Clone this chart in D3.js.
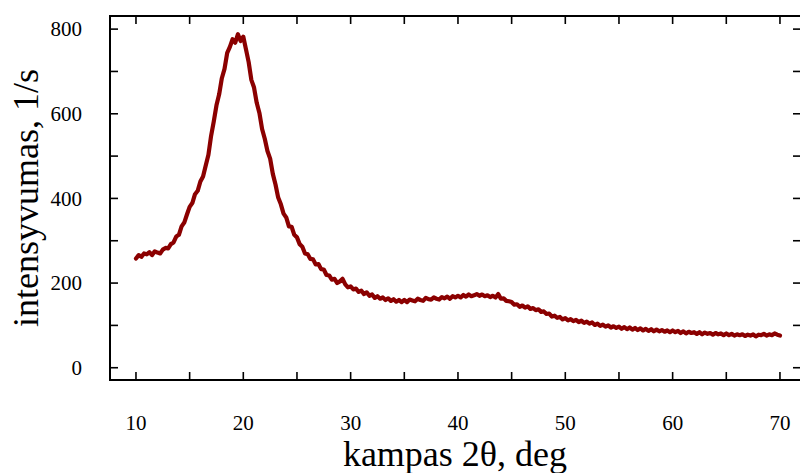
<!DOCTYPE html>
<html>
<head>
<meta charset="utf-8">
<script src="https://cdn.jsdelivr.net/npm/d3@7"></script>
<style>
  body { margin: 0; background: #fff; }
  svg { display: block; }
  text { font-family: "Liberation Serif", "Times New Roman", serif; fill: #000; }
</style>
</head>
<body>
<svg id="viz"></svg>
<script>
// 2theta scan: start, step (deg)
var twoThetaStart = 10;
var twoThetaStep = 0.25;

// intensity, 1/s — one row per 5 deg
var intensity = [
  258, 266, 262, 270, 268, 273, 266, 275, 272, 270, 279, 283, 282, 292, 296, 310, 314, 334, 343, 362,
  380, 389, 410, 418, 440, 452, 478, 503, 548, 582, 620, 646, 684, 706, 744, 758, 776, 768, 788, 772,
  782, 752, 722, 680, 662, 626, 602, 564, 541, 512, 494, 458, 433, 402, 386, 364, 355, 334, 333, 314,
  308, 292, 286, 270, 268, 257, 256, 244, 245, 233, 232, 219, 218, 208, 210, 200, 204, 210, 197, 190,
  192, 185, 187, 179, 182, 174, 178, 170, 173, 165, 169, 163, 166, 160, 164, 158, 162, 156, 160, 155,
  160, 155, 161, 159, 157, 163, 160, 158, 165, 162, 161, 166, 163, 161, 167, 164, 168, 163, 169, 166,
  170, 166, 172, 168, 173, 169, 171, 174, 170, 173, 169, 171, 167, 170, 166, 174, 163, 164, 158, 157,
  155, 149, 150, 144, 147, 142, 145, 139, 141, 136, 138, 132, 133, 127, 128, 121, 123, 118, 120, 114,
  117, 112, 115, 110, 113, 108, 111, 106, 109, 104, 107, 101, 104,  99, 102,  97, 100,  95,  98,  94,
   97,  92,  96,  91,  95,  90,  94,  89,  93,  88,  92,  87,  91,  86,  90,  86,  89,  85,  88,  84,
   88,  84,  87,  82,  86,  81,  85,  82,  84,  80,  84,  79,  83,  80,  82,  78,  82,  79,  81,  77,
   81,  77,  80,  76,  79,  77,  79,  75,  78,  76,  79,  74,  78,  77,  80,  76,  79,  77,  81,  78,
   76
];

var xTicks = [10, 15, 20, 25, 30, 35, 40, 45, 50, 55, 60, 65, 70];
var xLabels = [10, 20, 30, 40, 50, 60, 70];
var yTicks = [0, 100, 200, 300, 400, 500, 600, 700, 800];
var yLabels = [0, 200, 400, 600, 800];

var xTitle = "kampas 2\u03b8, deg";
var yTitle = "intensyvumas, 1/s";

function draw(){
    var width = 800;
    var height = 473;
    var left = 110, right = 801, top = 16, bottom = 380;
    var tickLen = 8;

    var svg = d3.select("#viz").attr("width", width).attr("height", height);

    var x = d3.scaleLinear().domain([7.58, 71.96]).range([left, right]);
    var y = d3.scaleLinear().domain([-29, 831]).range([bottom, top]);

    var data = intensity.map(function(v, i) {
        return {t: twoThetaStart + i * twoThetaStep, v: v};
    });

    var line = d3.line()
        .x(function(d) { return x(d.t); })
        .y(function(d) { return y(d.v); });

    svg.append("path")
        .datum(data)
        .attr("fill", "none")
        .attr("stroke", "#8b0000")
        .attr("stroke-width", 4.2)
        .attr("stroke-linejoin", "round")
        .attr("stroke-linecap", "round")
        .attr("d", line);

    // ticks on all four sides, pointing inward
    var g = svg.append("g").attr("stroke", "#000").attr("stroke-width", 1.6);
    xTicks.forEach(function(t) {
        g.append("line").attr("x1", x(t)).attr("x2", x(t)).attr("y1", bottom).attr("y2", bottom - tickLen);
        g.append("line").attr("x1", x(t)).attr("x2", x(t)).attr("y1", top).attr("y2", top + tickLen);
    });
    yTicks.forEach(function(t) {
        g.append("line").attr("y1", y(t)).attr("y2", y(t)).attr("x1", left).attr("x2", left + tickLen);
        g.append("line").attr("y1", y(t)).attr("y2", y(t)).attr("x1", right).attr("x2", right - tickLen);
    });

    svg.append("rect")
        .attr("x", left)
        .attr("y", top)
        .attr("width", right - left)
        .attr("height", bottom - top)
        .style("fill", "none")
        .style("stroke", "#000")
        .style("stroke-width", 2);

    svg.append("g").selectAll("text")
        .data(xLabels)
        .enter()
        .append("text")
        .attr("x", function(d) { return x(d); })
        .attr("y", 430)
        .attr("text-anchor", "middle")
        .style("font-size", "21px")
        .text(function(d) { return d; });

    svg.append("g").selectAll("text")
        .data(yLabels)
        .enter()
        .append("text")
        .attr("x", 82)
        .attr("y", function(d) { return y(d); })
        .attr("dy", "0.34em")
        .attr("text-anchor", "end")
        .style("font-size", "21px")
        .text(function(d) { return d; });

    svg.append("text")
        .attr("x", (left + 800) / 2)
        .attr("y", 466)
        .attr("text-anchor", "middle")
        .style("font-size", "36px")
        .text(xTitle);

    svg.append("text")
        .attr("transform", "translate(38," + ((top + bottom) / 2) + ") rotate(-90)")
        .attr("text-anchor", "middle")
        .style("font-size", "36px")
        .text(yTitle);
}

draw();
</script>
</body>
</html>
